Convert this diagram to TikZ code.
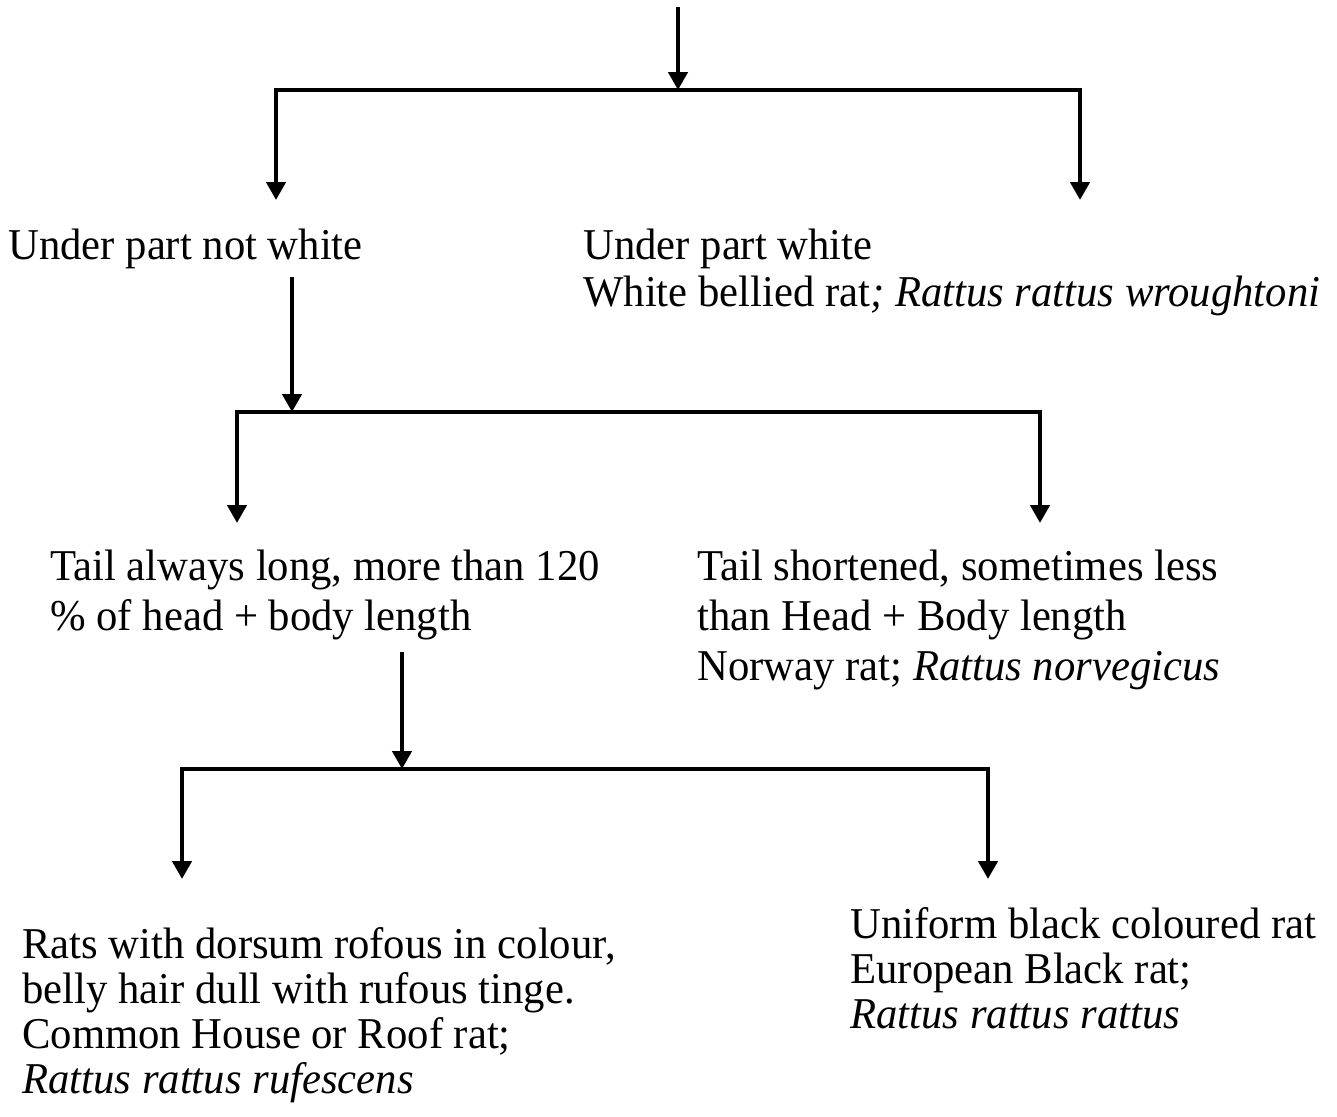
\documentclass[tikz,border=0pt]{standalone}
\usepackage{fontspec}
\setmainfont{Liberation Serif}[FakeStretch=0.97]
\usetikzlibrary{arrows.meta}
\begin{document}
\begin{tikzpicture}[x=0.5pt,y=-0.5pt,
  arr/.style={line width=2.2pt,-{Triangle[width=9.5pt,length=9pt]}},
  txt/.style={anchor=north west,inner sep=0pt,align=left,font=\fontsize{22}{22.5}\selectfont},
  txtw/.style={txt,font=\fontsize{22}{25}\selectfont}]
\useasboundingbox (0,0) rectangle (1337,1116);

% text blocks
\node[txt] (n1) at (8,229) {Under part not white};
\node[txt,font=\fontsize{22}{23.5}\selectfont] (n2) at (583,229) {Under part white\\White bellied rat\textit{; Rattus rattus wroughtoni}};
\node[txtw] (n3) at (50,550) {Tail always long, more than 120\\\% of head + body length};
\node[txtw] (n4) at (697,550) {Tail shortened, sometimes less\\than Head + Body length\\Norway rat; \textit{Rattus norvegicus}};
\node[txt] (n5) at (22,927) {Rats with dorsum rofous in colour,\\belly hair dull with rufous tinge.\\Common House or Roof rat;\\\textit{Rattus rattus rufescens}};
\node[txt] (n6) at (850,907) {Uniform black coloured rat\\European Black rat;\\\textit{Rattus rattus rattus}};

% junctions and ends
\coordinate (s0) at (678,7);
\coordinate (j1) at (678,90);
\coordinate (e1) at (276,200);
\coordinate (e2) at (1080,200);
\coordinate (s2) at (292,277);
\coordinate (j2) at (292,412);
\coordinate (e3) at (237,523);
\coordinate (e4) at (1040,523);
\coordinate (s3) at (402,652);
\coordinate (j3) at (402,769);
\coordinate (e5) at (182,879);
\coordinate (e6) at (988,879);

\draw[arr] (s0) -- (j1);
\draw[arr] (j1) -| (e1);
\draw[arr] (j1) -| (e2);
\draw[arr] (s2) -- (j2);
\draw[arr] (j2) -| (e3);
\draw[arr] (j2) -| (e4);
\draw[arr] (s3) -- (j3);
\draw[arr] (j3) -| (e5);
\draw[arr] (j3) -| (e6);
\end{tikzpicture}
\end{document}
